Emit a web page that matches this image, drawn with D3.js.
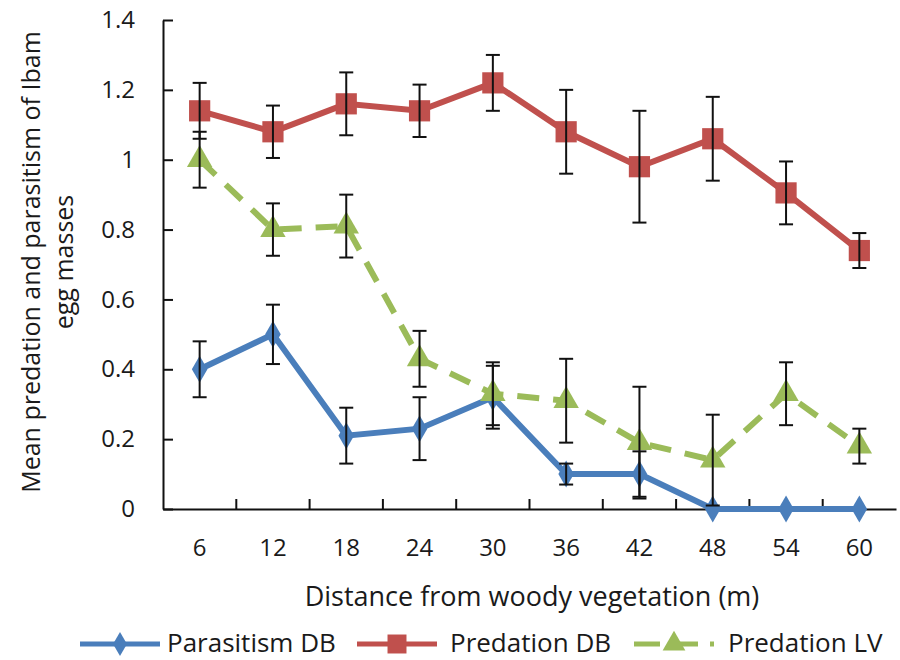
<!DOCTYPE html>
<html>
<head>
<meta charset="utf-8">
<script src="https://cdn.jsdelivr.net/npm/d3@7"></script>
<style>
  body { margin: 0; background: #fff; }
  svg text { font-family: "Open Sans", Lato, sans-serif; fill: #1a1a1a; }
</style>
</head>
<body>
<div id="graphic"></div>
<script>
const distances = ["6", "12", "18", "24", "30", "36", "42", "48", "54", "60"];
const parasitismDB = [0.40, 0.50, 0.21, 0.23, 0.32, 0.10, 0.10, 0.00, 0.00, 0.00];
const parasitismDBErr = [0.08, 0.085, 0.08, 0.09, 0.09, 0.03, 0.065, 0.00, 0.00, 0.00];
const predationDB = [1.14, 1.08, 1.16, 1.14, 1.22, 1.08, 0.98, 1.06, 0.905, 0.74];
const predationDBErr = [0.08, 0.075, 0.09, 0.075, 0.08, 0.12, 0.16, 0.12, 0.09, 0.05];
const predationLV = [1.00, 0.80, 0.81, 0.43, 0.33, 0.31, 0.19, 0.14, 0.33, 0.18];
const predationLVErr = [0.08, 0.075, 0.09, 0.08, 0.09, 0.12, 0.16, 0.13, 0.09, 0.05];
const yTicks = [0, 0.2, 0.4, 0.6, 0.8, 1, 1.2, 1.4];

const series = [
  { name: "Parasitism DB", values: parasitismDB, err: parasitismDBErr, color: "#4a7ebb", symbol: d3.symbolDiamond, size: 210, dash: null },
  { name: "Predation DB", values: predationDB, err: predationDBErr, color: "#c0504d", symbol: d3.symbolSquare, size: 450, dash: null },
  { name: "Predation LV", values: predationLV, err: predationLVErr, color: "#9bbb59", symbol: d3.symbolTriangle, size: 280, dash: "22,14" }
];

const margin = { top: 20, right: 4, bottom: 151, left: 163 },
    width = 900 - margin.left - margin.right,
    height = 660 - margin.top - margin.bottom;

const root = d3.select("#graphic")
    .append("svg")
    .attr("width", 900)
    .attr("height", 660);

const svg = root.append("g")
    .attr("transform", `translate(${margin.left},${margin.top})`);

const x = d3.scaleBand()
    .domain(distances)
    .range([0, width]);

const y = d3.scaleLinear()
    .domain([0, 1.4])
    .range([height, 0]);

// Y axis
const yAxis = svg.append("g")
    .call(d3.axisLeft(y).tickValues(yTicks).tickSizeInner(-10).tickSizeOuter(0).tickPadding(28).tickFormat(d => d3.format("~g")(d)));
yAxis.select(".domain").attr("stroke", "#111").attr("stroke-width", 2);
yAxis.selectAll(".tick line").attr("stroke", "#111").attr("stroke-width", 2);
yAxis.selectAll("text").style("font-size", "24px");

// X axis, ticks between categories
const xAxis = svg.append("g")
    .attr("transform", `translate(0,${height})`)
    .call(d3.axisBottom(x).tickSize(0).tickPadding(30));
xAxis.select(".domain").attr("stroke", "#111").attr("stroke-width", 2);
xAxis.selectAll("text").style("font-size", "24px");
svg.append("g")
    .selectAll("line")
    .data(distances.slice(1))
    .join("line")
    .attr("x1", d => x(d))
    .attr("x2", d => x(d))
    .attr("y1", height)
    .attr("y2", height - 10)
    .attr("stroke", "#111")
    .attr("stroke-width", 2);

// lines
const line = d3.line()
    .x((d, i) => x(distances[i]) + x.bandwidth() / 2)
    .y(d => y(d));

series.forEach(s => {
    svg.append("path")
        .datum(s.values)
        .attr("fill", "none")
        .attr("stroke", s.color)
        .attr("stroke-width", 6)
        .attr("stroke-dasharray", s.dash)
        .attr("d", line);
    svg.append("g")
        .selectAll("path")
        .data(s.values)
        .join("path")
        .attr("transform", (d, i) => `translate(${x(distances[i]) + x.bandwidth() / 2},${y(d)})`)
        .attr("d", d3.symbol().type(s.symbol).size(s.size))
        .attr("fill", s.color);
});

// error bars
series.forEach(s => {
    const g = svg.append("g").attr("stroke", "#111").attr("stroke-width", 2);
    s.values.forEach((v, i) => {
        if (s.err[i] <= 0) return;
        const cx = x(distances[i]) + x.bandwidth() / 2;
        const lo = y(Math.max(0, v - s.err[i])), hi = y(v + s.err[i]);
        g.append("line").attr("x1", cx).attr("x2", cx).attr("y1", lo).attr("y2", hi);
        g.append("line").attr("x1", cx - 7).attr("x2", cx + 7).attr("y1", lo).attr("y2", lo);
        g.append("line").attr("x1", cx - 7).attr("x2", cx + 7).attr("y1", hi).attr("y2", hi);
    });
});

// axis titles
root.append("text")
    .attr("x", 532)
    .attr("y", 606)
    .attr("text-anchor", "middle")
    .style("font-size", "27px")
    .text("Distance from woody vegetation (m)");

const yTitle = root.append("text")
    .attr("transform", "translate(0,262) rotate(-90)")
    .attr("text-anchor", "middle")
    .style("font-size", "25px");
yTitle.append("tspan").attr("x", 0).attr("y", 40).text("Mean predation and parasitism of Ibam");
yTitle.append("tspan").attr("x", 0).attr("y", 73).text("egg masses");

// legend
const legendX = [80, 357, 634];
const legendText = [167, 450, 728];
series.forEach((s, i) => {
    const lg = root.append("g").attr("transform", `translate(${legendX[i]},644)`);
    lg.append("line")
        .attr("x1", 0).attr("x2", 80)
        .attr("stroke", s.color)
        .attr("stroke-width", 5)
        .attr("stroke-dasharray", s.dash ? "26,12" : null);
    lg.append("path")
        .attr("transform", "translate(40,0)")
        .attr("d", d3.symbol().type(s.symbol).size(s.size * 0.8))
        .attr("fill", s.color);
    root.append("text")
        .attr("x", legendText[i])
        .attr("y", 652)
        .style("font-size", "26px")
        .text(s.name);
});
</script>
</body>
</html>
